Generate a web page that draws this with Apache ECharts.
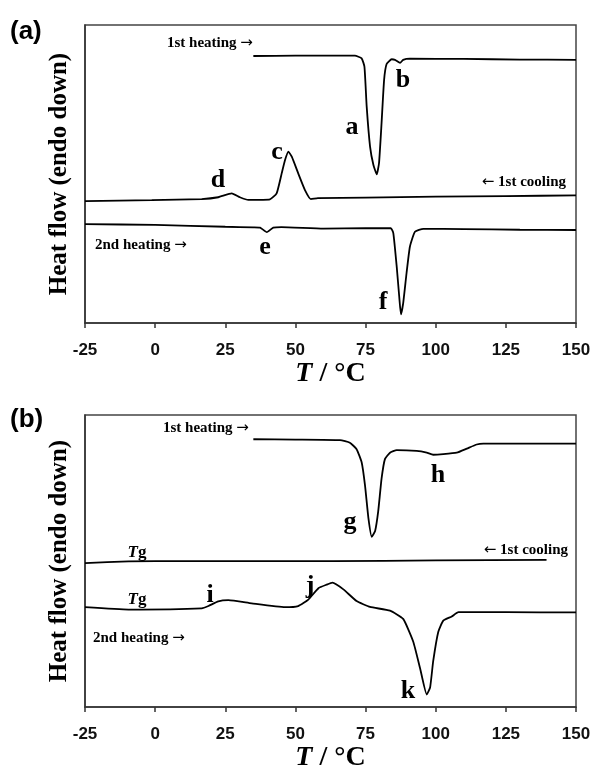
<!DOCTYPE html>
<html>
<head>
<meta charset="utf-8">
<script src="https://cdn.jsdelivr.net/npm/echarts@6/dist/echarts.min.js"></script>
<style>html,body{margin:0;padding:0;background:#fff}#c{width:594px;height:773px}</style>
</head>
<body>
<div id="c"></div>
<script>
// Temperature ticks
var tickMin = -25, tickMax = 150, tickStep = 25;

// Panel (a) curves: temperature (°C) and heat flow (arbitrary units, endo down)
var aHeat1T = [35, 50, 65, 71.2, 73.6, 74.6, 75.4, 76.6, 77.8, 79.0, 79.8, 80.7, 81.6, 82.5, 84.3, 85.5, 87.3, 88.4, 90.8, 110, 130, 150];
var aHeat1V = [89.6, 89.7, 89.7, 89.7, 88.8, 86.0, 72.6, 59.2, 53.0, 49.9, 53.7, 67.1, 81.5, 86.9, 88.5, 88.3, 87.3, 88.3, 88.7, 88.6, 88.4, 88.3];

var aCool1T = [-25, -1.2, 16.6, 22.5, 27.3, 30.2, 33.2, 40.9, 43.3, 45.1, 46.3, 47.5, 48.7, 51.0, 53.4, 55.5, 58, 75, 100, 125, 150];
var aCool1V = [40.9, 41.2, 41.6, 42.2, 43.5, 42.2, 41.3, 41.5, 43.5, 50.2, 54.7, 57.5, 55.8, 50.2, 44.6, 41.6, 41.9, 42.1, 42.4, 42.6, 42.8];

var aHeat2T = [-25, 0, 25, 35, 37.4, 39.8, 42.1, 45, 60, 75, 84, 84.9, 86.1, 87.0, 87.6, 88.4, 89.6, 90.8, 92.6, 95.6, 110, 130, 150];
var aHeat2V = [33.2, 32.9, 32.3, 32.1, 32.0, 30.5, 32.0, 32.2, 31.7, 31.8, 31.8, 30.1, 18.9, 8.8, 2.9, 6.6, 16.7, 25.6, 30.6, 31.6, 31.5, 31.3, 31.2];

// Panel (b) curves
var bHeat1T = [35, 50, 65.9, 69.4, 71.8, 73.6, 74.8, 76.0, 77.2, 78.4, 79.5, 80.7, 81.9, 83.7, 86.1, 93.2, 96.8, 99.1, 102.7, 107.5, 111.1, 114.6, 117, 130, 150];
var bHeat1V = [91.7, 91.6, 91.4, 90.5, 88.3, 83.8, 75.9, 64.8, 58.3, 60.3, 67.0, 78.2, 84.9, 87.1, 88.0, 87.7, 87.1, 86.4, 86.6, 87.1, 88.5, 89.9, 90.2, 90.2, 90.2];

var bCool1T = [-25, -9.5, 10, 30, 63.4, 100, 139.5];
var bCool1V = [49.3, 49.9, 50.0, 50.0, 50.0, 50.2, 50.4];

var bHeat2T = [-25, -9.5, 16.6, 19.0, 22.5, 26.1, 34.4, 46.3, 51.0, 54.6, 58.2, 61.1, 63.2, 67.1, 71.8, 76.6, 83.7, 88.4, 92.0, 94.4, 96.8, 98.0, 99.1, 100.9, 102.7, 105.7, 108.1, 125, 150];
var bHeat2V = [34.2, 33.4, 33.8, 34.6, 36.2, 36.6, 35.5, 34.2, 34.6, 36.8, 40.7, 41.9, 42.6, 40.3, 36.3, 34.3, 33.0, 30.2, 22.4, 13.4, 4.3, 6.7, 15.7, 25.7, 29.6, 31.0, 32.5, 32.5, 32.4];

function zip(t, v) { return t.map(function (x, i) { return [x, v[i]]; }); }

var serif = '"Liberation Serif","DejaVu Serif",serif';
var sans = '"Liberation Sans","DejaVu Sans",sans-serif';

function xAx(idx) {
  return {
    type: 'value', gridIndex: idx, min: tickMin, max: tickMax, interval: tickStep,
    name: '{i|T}{n| / °C}', nameLocation: 'middle', nameGap: 35,
    nameTextStyle: { rich: {
      i: { fontFamily: serif, fontStyle: 'italic', fontWeight: 'bold', fontSize: 28, color: '#000' },
      n: { fontFamily: serif, fontWeight: 'bold', fontSize: 28, color: '#000' } } },
    axisLine: { onZero: false, lineStyle: { color: '#333', width: 1.5 } },
    axisTick: { inside: false, length: 5, lineStyle: { color: '#333', width: 1.5 } },
    axisLabel: { margin: 19, fontFamily: sans, fontWeight: 'bold', fontSize: 17, color: '#111' },
    splitLine: { show: false }
  };
}
function yAx(idx) {
  return {
    type: 'value', gridIndex: idx, min: 0, max: 100,
    name: 'Heat flow (endo down)', nameLocation: 'middle', nameGap: 13,
    nameTextStyle: { fontFamily: serif, fontWeight: 'bold', fontSize: 25, color: '#000' },
    axisLine: { show: true, onZero: false, lineStyle: { color: '#333', width: 1.5 } },
    axisTick: { show: false }, axisLabel: { show: false }, splitLine: { show: false }
  };
}
function line(xi, t, v) {
  return {
    type: 'line', xAxisIndex: xi, yAxisIndex: xi, data: zip(t, v), smooth: 0.15,
    showSymbol: false, lineStyle: { color: '#000', width: 1.8 }, silent: true
  };
}
var arrowRich = {
  w: { fontFamily: serif, fontWeight: 'bold', fontSize: 15, fill: '#000', color: '#000' },
  r: { fontFamily: '"DejaVu Sans",sans-serif', fontSize: 15, fill: '#000', color: '#000' }
};
function arrowTxt(x, y, s, dir, align) {
  var text = dir === 'right' ? '{w|' + s + ' }{r|→}' : '{r|←}{w| ' + s + '}';
  return { type: 'text', x: x, y: y, style: {
    text: text, rich: arrowRich, textAlign: align, textVerticalAlign: 'middle' } };
}
function txt(x, y, s, size) {
  return { type: 'text', x: x, y: y, style: {
    text: s, fontFamily: serif, fontWeight: 'bold', fontSize: size || 15, fill: '#000',
    textAlign: 'center', textVerticalAlign: 'middle' } };
}
function tg(x, y) {
  return { type: 'text', x: x, y: y, style: {
    text: '{i|T}{n|g}', textAlign: 'center', textVerticalAlign: 'middle',
    rich: { i: { fontFamily: serif, fontStyle: 'italic', fontWeight: 'bold', fontSize: 17, fill: '#000', color: '#000' },
            n: { fontFamily: serif, fontWeight: 'bold', fontSize: 17, fill: '#000', color: '#000' } } } };
}
function panelLabel(x, y, s) {
  return { type: 'text', x: x, y: y, style: {
    text: s, fontFamily: sans, fontWeight: 'bold', fontSize: 26, fill: '#000',
    textAlign: 'left', textVerticalAlign: 'middle' } };
}

var chart = echarts.init(document.getElementById('c'), null, { renderer: 'canvas' });
chart.setOption({
  animation: false,
  backgroundColor: '#fff',
  grid: [
    { left: 85, top: 25, width: 491, height: 298, show: true, borderColor: '#444', borderWidth: 1.5 },
    { left: 85, top: 415, width: 491, height: 298, show: true, borderColor: '#444', borderWidth: 1.5 }
  ],
  xAxis: [xAx(0), xAx(1)],
  yAxis: [yAx(0), yAx(1)],
  series: [
    line(0, aHeat1T, aHeat1V), line(0, aCool1T, aCool1V), line(0, aHeat2T, aHeat2V),
    line(1, bHeat1T, bHeat1V), line(1, bCool1T, bCool1V), line(1, bHeat2T, bHeat2V)
  ],
  graphic: [
    panelLabel(10, 32, '(a)'), panelLabel(10, 420, '(b)'),
    arrowTxt(167, 43, '1st heating', 'right', 'left'),
    txt(352, 127, 'a', 26), txt(403, 80, 'b', 26), txt(277, 152, 'c', 26), txt(218, 180, 'd', 26),
    arrowTxt(566, 182, '1st cooling', 'left', 'right'),
    arrowTxt(95, 245, '2nd heating', 'right', 'left'),
    txt(265, 247, 'e', 26), txt(383, 302, 'f', 26),
    arrowTxt(163, 428, '1st heating', 'right', 'left'),
    txt(350, 522, 'g', 26), txt(438, 475, 'h', 26),
    tg(137, 553),
    arrowTxt(568, 550, '1st cooling', 'left', 'right'),
    tg(137, 600),
    txt(210, 595, 'i', 26), txt(310, 586, 'j', 26),
    arrowTxt(93, 638, '2nd heating', 'right', 'left'),
    txt(408, 691, 'k', 26)
  ]
});
</script>
</body>
</html>
